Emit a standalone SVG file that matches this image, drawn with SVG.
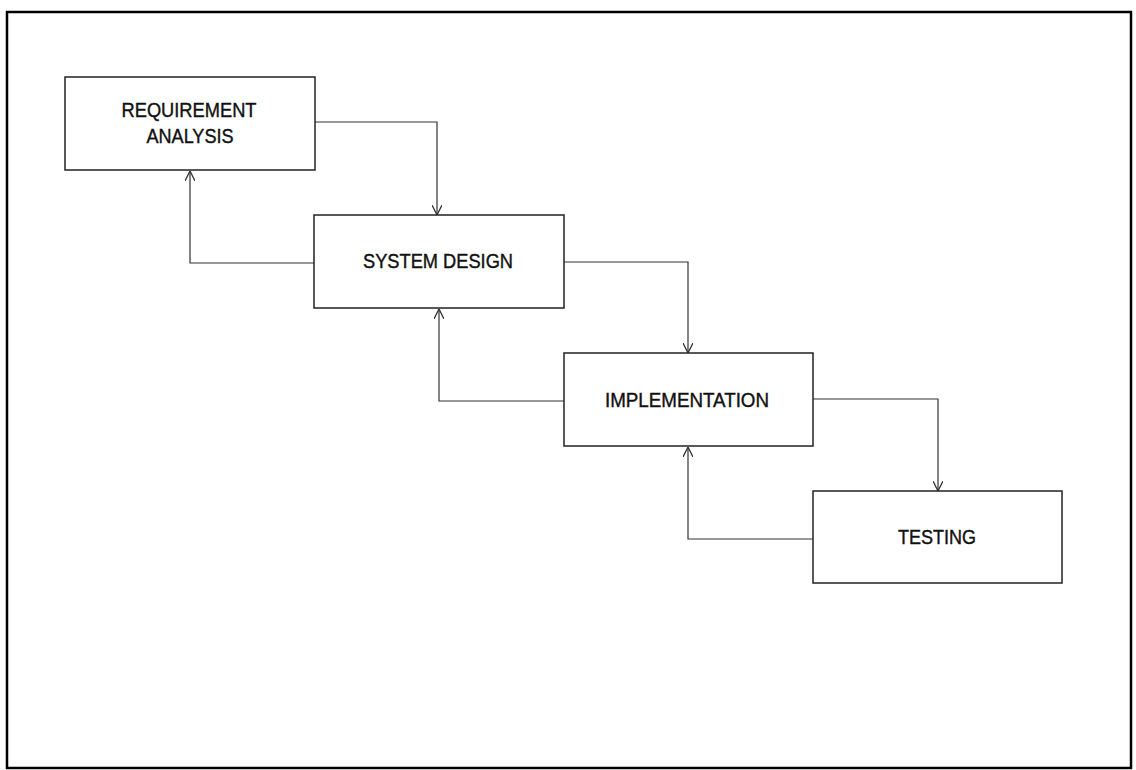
<svg xmlns="http://www.w3.org/2000/svg" width="1136" height="770" viewBox="0 0 1136 770">
<style>
.frame{fill:none;stroke:#000;stroke-width:2.5}
.box{fill:#fff;stroke:#222;stroke-width:1.5}
.lbl{font-family:"Liberation Sans",Arial,sans-serif;font-size:20px;fill:#111;stroke:#111;stroke-width:0.4;text-anchor:middle}
.conn{fill:none;stroke:#333;stroke-width:1.2}
</style>
<defs>
<marker id="arr" viewBox="0 0 10 10" refX="10" refY="5" markerWidth="10" markerHeight="10" markerUnits="userSpaceOnUse" orient="auto">
<path d="M0,0 L10,5 L0,10" fill="none" stroke="#333" stroke-width="1.3"/>
</marker>
</defs>
<rect class="frame" x="7" y="12" width="1124" height="756"/>
<g id="connectors">
<polyline class="conn" points="315,122 437,122 437,215" marker-end="url(#arr)"/>
<polyline class="conn" points="314,263 190,263 190,171" marker-end="url(#arr)"/>
<polyline class="conn" points="564,262 688,262 688,353" marker-end="url(#arr)"/>
<polyline class="conn" points="564,401 439,401 439,309" marker-end="url(#arr)"/>
<polyline class="conn" points="813,399 938,399 938,491" marker-end="url(#arr)"/>
<polyline class="conn" points="813,539 688,539 688,447" marker-end="url(#arr)"/>
</g>
<g id="requirement-analysis">
<rect class="box" x="65" y="77" width="250" height="93"/>
<text class="lbl" x="189" y="117" textLength="135" lengthAdjust="spacingAndGlyphs">REQUIREMENT</text>
<text class="lbl" x="190" y="143" textLength="87" lengthAdjust="spacingAndGlyphs">ANALYSIS</text>
</g>
<g id="system-design">
<rect class="box" x="314" y="215" width="250" height="93"/>
<text class="lbl" x="438" y="268" textLength="150" lengthAdjust="spacingAndGlyphs">SYSTEM DESIGN</text>
</g>
<g id="implementation">
<rect class="box" x="564" y="353" width="249" height="93"/>
<text class="lbl" x="687" y="407" textLength="164" lengthAdjust="spacingAndGlyphs">IMPLEMENTATION</text>
</g>
<g id="testing">
<rect class="box" x="813" y="491" width="249" height="92"/>
<text class="lbl" x="937" y="544" textLength="78" lengthAdjust="spacingAndGlyphs">TESTING</text>
</g>
</svg>
